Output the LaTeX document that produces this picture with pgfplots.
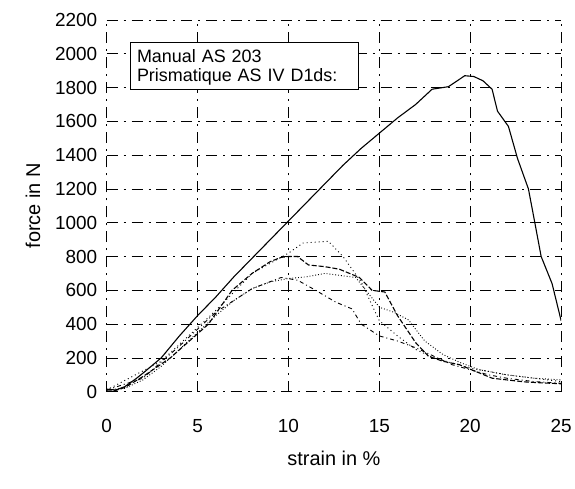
\documentclass[border=0pt]{standalone}
\usepackage{pgfplots}
\pgfplotsset{compat=1.18}
\usepackage{fontspec}
\setmainfont{Liberation Sans}
\begin{document}
\begin{tikzpicture}
\begin{axis}[name=ax, scale only axis, width=456pt, height=373pt,
  xmin=0, xmax=25, ymin=0, ymax=2200, enlargelimits=false,
  xtick={0,5,...,25}, ytick={0,200,...,2200},
  axis line style={draw=none}, major tick length=0pt,
  grid=major, major grid style={black, line width=0.8pt, dash pattern=on 11pt off 6pt on 2pt off 6pt},
  /pgf/number format/assume math mode=true,
  /pgf/number format/1000 sep={},
  tick label style={font=\fontsize{19}{21}\selectfont},
  xticklabel style={yshift=-24pt},
  yticklabel style={xshift=-6pt},
  xlabel={strain in \%}, ylabel={force in N},
  label style={font=\fontsize{20}{24}\selectfont},
  xlabel style={yshift=-12pt},
  ylabel style={yshift=8pt},
  legend style={at={(axis cs:1.26,1783)}, anchor=south west, draw=black, line width=1pt,
    font=\fontsize{18}{20}\selectfont, fill=white, inner sep=5pt,
    nodes={inner sep=2pt, text width=215pt}},
  legend cell align=left,
  legend image code/.code={}]
\addplot[black, line width=1.1pt] coordinates {
 (0,15) (0.5,10) (1,30) (1.6,76) (2,110) (3,200) (4,330) (5,450) (6,560) (7,680)
 (8,790) (9,900) (10,1010) (11,1120) (12,1230) (13,1340) (14,1440) (15,1530)
 (16,1620) (17,1700) (17.9,1790) (18.8,1805) (19.7,1870) (20.2,1865) (20.7,1840)
 (21.2,1790) (21.5,1660) (22.1,1570) (22.6,1380) (23.2,1200) (23.5,1030)
 (23.9,800) (24.5,640) (25,420)};
\addlegendentry{Manual AS 203}
\addplot[black, line width=1.1pt, dash pattern=on 5pt off 2pt] coordinates {
 (0,10) (0.5,8) (1,25) (2,90) (3.5,200) (5.6,400) (6.9,600) (8,700) (9,770)
 (9.6,795) (10,800) (10.5,800) (11.1,750) (12,740) (12.8,725) (13.9,676)
 (14.6,600) (15.3,590) (16,450) (17,290) (17.7,210) (18.5,180) (19.4,160)
 (20.3,120) (21.2,80) (22,70) (23,58) (24,52) (25,47)};
\addlegendentry{Prismatique AS IV D1ds:}
\addplot[black, line width=0.9pt, dotted] coordinates {
 (0,10) (1,20) (2,70) (3,150) (4,250) (5,350) (6,450) (7,540) (8,610) (9,650)
 (10,670) (11,680) (12,700) (13.7,676) (15,500) (15.8,470) (16.6,425)
 (17.5,300) (18.5,220) (19.5,170) (20.5,130) (22,100) (23.5,80) (25,70)};
\addplot[black, line width=0.9pt, dash pattern=on 4pt off 3pt on 1pt off 3pt] coordinates {
 (0,10) (2,80) (4,270) (6,470) (8,610) (9.6,676) (10.5,660) (11.5,600)
 (12.6,530) (13.5,490) (14,400) (15,330) (16,300) (17,260) (18,210) (19,160)
 (20,130) (21,100) (22,80) (23.5,60) (25,50)};
\addplot[black, line width=0.9pt, dash pattern=on 1pt off 3pt] coordinates {
 (0,10) (3,180) (6,480) (8,700) (10,820) (10.8,880) (12.2,890) (13,800)
 (14,650) (15,420) (16,330) (17,250) (18,200) (20,140) (22,100) (25,60)};
\end{axis}
\path (ax.south west) ++(-107pt,-97pt) rectangle ++(575pt,490pt);
\end{tikzpicture}
\end{document}
